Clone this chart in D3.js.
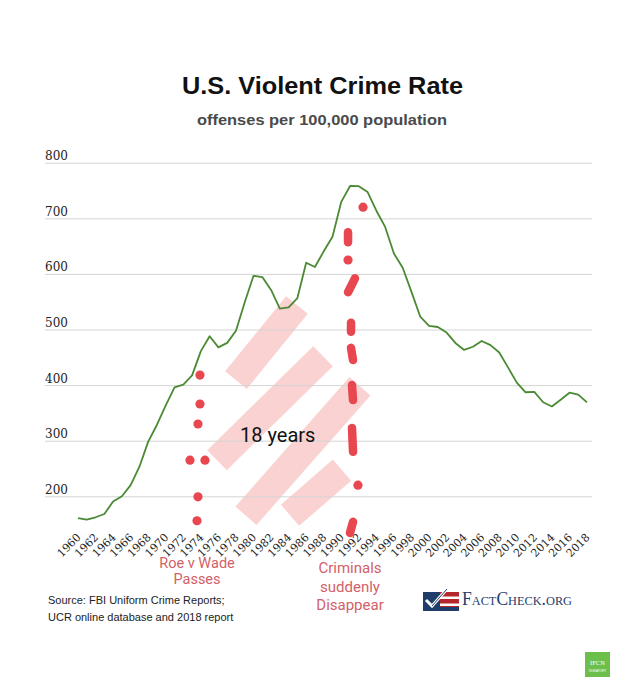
<!DOCTYPE html>
<html>
<head>
<meta charset="utf-8">
<script src="https://cdn.jsdelivr.net/npm/d3@7"></script>
<style>
  html, body { margin: 0; padding: 0; background: #ffffff; }
  svg { display: block; }
</style>
</head>
<body>
<svg id="chart" width="640" height="694"></svg>
<script>
// ---- Data ----
const years = d3.range(1960, 2019);
const crimeRate = [
  160.9, 158.1, 162.3, 168.2, 190.6, 200.2, 220.0, 253.2, 298.4, 328.7,
  363.5, 396.0, 401.0, 417.4, 461.1, 487.8, 467.8, 475.9, 497.8, 548.9,
  596.6, 594.3, 571.1, 537.7, 539.9, 556.6, 620.1, 612.5, 640.6, 666.9,
  729.6, 758.2, 757.7, 747.1, 713.6, 684.5, 636.6, 611.0, 567.6, 523.0,
  506.5, 504.5, 494.4, 475.8, 463.2, 469.0, 479.3, 471.8, 458.6, 431.9,
  404.5, 387.1, 387.8, 369.1, 361.6, 373.7, 386.3, 382.9, 368.9
];
const yTicks = [200, 300, 400, 500, 600, 700, 800];
const xTicks = d3.range(1960, 2019, 2);

// annotation marks (in year / value units)
const roeDots = [[1973.9, 418], [1973.9, 366], [1973.67, 330], [1972.76, 265], [1974.47, 265], [1973.67, 199], [1973.56, 156]];
const dropDots = [[1992.48, 720], [1990.77, 625], [1991.9, 220]];
const dropDashes = [
  [[1990.77, 675], [1990.77, 657]],
  [[1990.77, 567], [1991.56, 592]],
  [[1991.11, 512], [1991.11, 496]],
  [[1991.11, 467], [1991.34, 445]],
  [[1991.22, 400], [1991.34, 373]],
  [[1991.22, 323], [1991.34, 280]],
  [[1991.34, 154], [1990.99, 134]]
];
const stripes = [
  [[1978.0, 409], [1984.95, 544]],
  [[1975.84, 265], [1987.92, 452]],
  [[1979.14, 165], [1992.13, 398]],
  [[1984.16, 166], [1990.08, 247]]
];

// ---- Scales ----
const svg = d3.select("#chart");
const x = d3.scaleLinear().domain([1960, 2018]).range([78, 587]);
const y = d3.scaleLinear().domain([200, 800]).range([496.3, 162.7]);

// ---- Title ----
svg.append("text").attr("x", 322.5).attr("y", 93.5).attr("text-anchor", "middle")
  .attr("font-family", "Liberation Sans, Arial, sans-serif").attr("font-weight", "bold")
  .attr("font-size", 23.5).attr("fill", "#111")
  .attr("textLength", 281).attr("lengthAdjust", "spacingAndGlyphs")
  .text("U.S. Violent Crime Rate");
svg.append("text").attr("x", 322).attr("y", 125).attr("text-anchor", "middle")
  .attr("font-family", "Liberation Sans, Arial, sans-serif").attr("font-weight", "bold")
  .attr("font-size", 15).attr("fill", "#4a4a4a")
  .attr("textLength", 250).attr("lengthAdjust", "spacingAndGlyphs")
  .text("offenses per 100,000 population");

// ---- Stripes (behind) ----
svg.append("g").selectAll("line").data(stripes).join("line")
  .attr("x1", d => x(d[0][0])).attr("y1", d => y(d[0][1]))
  .attr("x2", d => x(d[1][0])).attr("y2", d => y(d[1][1]))
  .attr("stroke", "rgba(240,105,105,0.3)").attr("stroke-width", 28).attr("stroke-linecap", "butt");

// ---- Y axis / grid ----
const yAxis = svg.append("g").attr("transform", "translate(45,0)")
  .call(d3.axisRight(y).tickValues(yTicks).tickSize(547).tickFormat(d3.format("d")));
yAxis.select(".domain").remove();
yAxis.selectAll(".tick line").attr("stroke", "#d4d4d4").attr("stroke-width", 1);
yAxis.selectAll(".tick text").attr("x", 0).attr("dy", -3).attr("text-anchor", "start")
  .attr("font-family", "DejaVu Serif, Georgia, serif").attr("font-size", 12).attr("fill", "#222");

// ---- X axis ----
const xAxis = svg.append("g").attr("transform", "translate(0,530)")
  .call(d3.axisBottom(x).tickValues(xTicks).tickSize(0).tickFormat(d3.format("d")));
xAxis.select(".domain").remove();
xAxis.selectAll(".tick text").attr("x", 0).attr("y", 0).attr("dy", 0)
  .attr("text-anchor", "end").attr("transform", "translate(3,8) rotate(-45)")
  .attr("font-family", "DejaVu Serif, Georgia, serif").attr("font-size", 11).attr("fill", "#222");

// ---- Line ----
const line = d3.line().x((d, i) => x(years[i])).y(d => y(d));
svg.append("path").datum(crimeRate).attr("d", line)
  .attr("fill", "none").attr("stroke", "#4b8a34").attr("stroke-width", 1.8)
  .attr("stroke-linejoin", "round");

// ---- Red dotted annotations ----
const red = "#e8474f";
svg.append("g").selectAll("circle").data(roeDots.concat(dropDots)).join("circle")
  .attr("cx", d => x(d[0])).attr("cy", d => y(d[1])).attr("r", 4.6).attr("fill", red);
svg.append("g").selectAll("line").data(dropDashes).join("line")
  .attr("x1", d => x(d[0][0])).attr("y1", d => y(d[0][1]))
  .attr("x2", d => x(d[1][0])).attr("y2", d => y(d[1][1]))
  .attr("stroke", red).attr("stroke-width", 8.5).attr("stroke-linecap", "round");

// ---- Text annotations ----
svg.append("text").attr("x", 240).attr("y", 442)
  .attr("font-family", "Roboto, sans-serif").attr("font-size", 20).attr("fill", "#111").text("18 years");

const annoColor = "#d35f68";
const roe = svg.append("text").attr("text-anchor", "middle")
  .attr("font-family", "Roboto, sans-serif").attr("font-size", 14.5).attr("fill", annoColor);
roe.append("tspan").attr("x", 197).attr("y", 568).text("Roe v Wade");
roe.append("tspan").attr("x", 197).attr("y", 583.5).text("Passes");

const crim = svg.append("text").attr("text-anchor", "middle")
  .attr("font-family", "Roboto, sans-serif").attr("font-size", 15).attr("fill", annoColor);
crim.append("tspan").attr("x", 350).attr("y", 573).text("Criminals");
crim.append("tspan").attr("x", 350).attr("y", 591.5).text("suddenly");
crim.append("tspan").attr("x", 350).attr("y", 610).text("Disappear");

// ---- Source ----
const src = svg.append("text").attr("font-family", "Liberation Sans, Arial, sans-serif")
  .attr("font-size", 11).attr("fill", "#222");
src.append("tspan").attr("x", 48).attr("y", 604).text("Source: FBI Uniform Crime Reports;");
src.append("tspan").attr("x", 48).attr("y", 621).text("UCR online database and 2018 report");

// ---- FactCheck.org logo ----
const logo = svg.append("g").attr("transform", "translate(423,590)");
logo.append("rect").attr("x", 0).attr("y", 2).attr("width", 36).attr("height", 19).attr("fill", "#ffffff");
logo.append("rect").attr("x", 0).attr("y", 2).attr("width", 17).attr("height", 19).attr("fill", "#1f3d6b");
[0, 1, 2].forEach(i => {
  logo.append("rect").attr("x", 17).attr("y", 2 + i * 7).attr("width", 19).attr("height", 4.5).attr("fill", "#b3272d");
});
logo.append("rect").attr("x", 0).attr("y", 17).attr("width", 36).attr("height", 4).attr("fill", "#1f3d6b");
logo.append("path").attr("d", "M3,10 L9,16 L24,-1").attr("fill", "none")
  .attr("stroke", "#ffffff").attr("stroke-width", 3);
logo.append("path").attr("d", "M9,16 L24,-1").attr("fill", "none")
  .attr("stroke", "#1f3d6b").attr("stroke-width", 1);
svg.append("text").attr("x", 462).attr("y", 605)
  .attr("font-family", "Liberation Serif, Times New Roman, serif").attr("fill", "#1f3d6b")
  .attr("font-size", 18.5).style("font-variant", "small-caps")
  .attr("textLength", 110).attr("lengthAdjust", "spacingAndGlyphs")
  .text("FactCheck.org");

// ---- IFCN badge ----
svg.append("rect").attr("x", 585).attr("y", 652).attr("width", 25).attr("height", 25).attr("fill", "#6cbf4a");
svg.append("text").attr("x", 597.5).attr("y", 665).attr("text-anchor", "middle")
  .attr("font-family", "Liberation Serif, serif").attr("font-size", 6.5).attr("fill", "#ffffff").text("IFCN");
svg.append("text").attr("x", 597.5).attr("y", 672).attr("text-anchor", "middle")
  .attr("font-family", "Liberation Sans, sans-serif").attr("font-size", 3).attr("fill", "#ffffff").text("SIGNATORY");
</script>
</body>
</html>
